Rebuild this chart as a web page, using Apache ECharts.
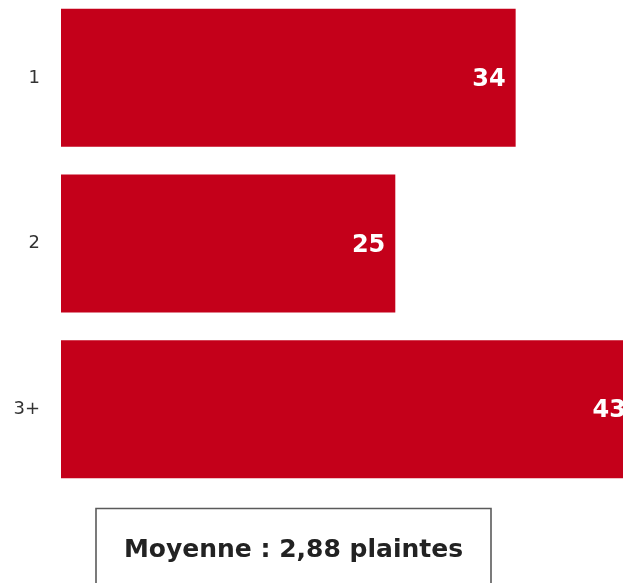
<!DOCTYPE html>
<html>
<head>
<meta charset="utf-8">
<script src="https://cdn.jsdelivr.net/npm/echarts@6/dist/echarts.min.js"></script>
<style>
  html, body { margin: 0; padding: 0; background: #ffffff; overflow: hidden; width: 623px; height: 583px; position: relative; }
  /* the drawing area is a little larger than the page so the long bar runs past the right edge */
  #chart { position: absolute; left: 0; top: -10px; width: 660px; height: 610px; }
</style>
</head>
<body>
<div id="chart"></div>
<script>
// Number of complaints per person (categories) and share in %
const categories = ['1', '2', '3+'];
const values = [34, 25, 43];
const averageText = 'Moyenne : 2,88 plaintes';

const chart = echarts.init(document.getElementById('chart'), null, { renderer: 'canvas' });

chart.setOption({
  backgroundColor: '#ffffff',
  animation: false,
  grid: { left: 61, top: 5, width: 575, height: 497, containLabel: false },
  xAxis: {
    type: 'value',
    min: 0,
    max: 43,
    show: false
  },
  yAxis: {
    type: 'category',
    data: categories,
    inverse: true,
    axisLine: { show: false },
    axisTick: { show: false },
    splitLine: { show: false },
    axisLabel: {
      margin: 21,
      fontFamily: 'DejaVu Sans',
      fontSize: 18,
      color: '#333333',
      padding: [3, 0, 0, 0]
    }
  },
  series: [{
    type: 'bar',
    data: values,
    barWidth: 138,
    itemStyle: { color: '#c4001a' },
    label: {
      show: true,
      position: 'insideRight',
      distance: 10,
      offset: [0, 2],
      fontFamily: 'DejaVu Sans',
      fontWeight: 'bold',
      fontSize: 24,
      color: '#ffffff'
    }
  }],
  graphic: [
    {
      type: 'rect',
      shape: { x: 96, y: 518.5, width: 395, height: 120 },
      style: { fill: '#ffffff', stroke: '#5a5a5a', lineWidth: 1.6 }
    },
    {
      type: 'text',
      x: 293.5,
      y: 560,
      style: {
        text: averageText,
        fontFamily: 'DejaVu Sans',
        fontWeight: 'bold',
        fontSize: 25,
        fill: '#222222',
        align: 'center',
        verticalAlign: 'middle'
      }
    }
  ]
});
</script>
</body>
</html>
